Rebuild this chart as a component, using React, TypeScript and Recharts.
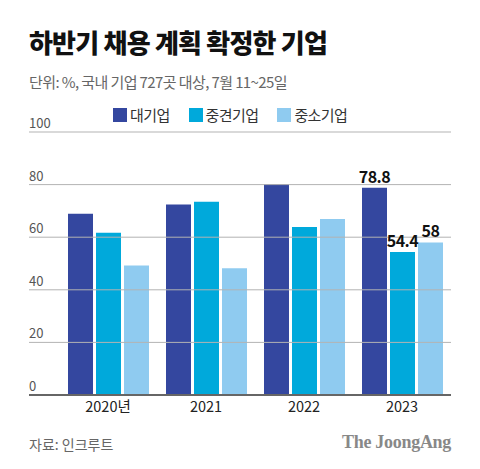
import { Bar, BarChart, LabelList, XAxis, YAxis } from "recharts";

const years = ["2020년", "2021", "2022", "2023"];
const large = [68.9, 72.4, 80.2, 78.8];
const mid = [61.7, 73.5, 63.9, 54.4];
const small = [49.2, 48.2, 66.9, 58];
const yTicks = [0, 20, 40, 60, 80, 100];

const series = [
    { key: "대기업", values: large, color: "#34479f" },
    { key: "중견기업", values: mid, color: "#00a9db" },
    { key: "중소기업", values: small, color: "#8fcbf0" },
];

const data = years.map((year, i) => {
    const row: Record<string, string | number> = { year };
    series.forEach((s) => {
        row[s.key] = s.values[i];
    });
    return row;
});

const font = "'Noto Sans CJK KR', 'Noto Sans', sans-serif";

// y tick: label sits above its gridline, line runs across the whole chart
const yTick = (props: any) => {
    const { y, payload } = props;
    return (
        <g>
            {payload.value !== 0 && (
                <line x1={29} x2={451} y1={y} y2={y} stroke="#b3b3b3" strokeWidth={1} />
            )}
            <text x={29} y={y - 4} fontSize={13} fill="#555" fontFamily={font}>
                {payload.value}
            </text>
        </g>
    );
};

const lastLabel = (props: any) => {
    const { x, y, width, value, index } = props;
    if (index !== years.length - 1) return null;
    return (
        <text
            x={x + width / 2}
            y={y - 5}
            textAnchor="middle"
            fontSize={16}
            fontWeight={700}
            fill="#111"
            fontFamily={font}
            letterSpacing={-0.5}
        >
            {value}
        </text>
    );
};

export default function App() {
    return (
        <div
            style={{
                position: "absolute",
                left: 0,
                top: 0,
                width: 480,
                height: 469,
                background: "#fff",
                fontFamily: font,
                overflow: "hidden",
            }}
        >
            <div
                style={{
                    position: "absolute",
                    left: 29,
                    top: 23,
                    fontSize: 26,
                    fontWeight: 800,
                    color: "#111",
                    letterSpacing: -0.8,
                    whiteSpace: "nowrap",
                }}
            >
                하반기 채용 계획 확정한 기업
            </div>
            <div
                style={{
                    position: "absolute",
                    left: 29,
                    top: 71,
                    fontSize: 15,
                    color: "#666",
                    letterSpacing: -0.6,
                    whiteSpace: "nowrap",
                }}
            >
                단위: %, 국내 기업 727곳 대상, 7월 11~25일
            </div>
            <div
                style={{
                    position: "absolute",
                    left: 113,
                    top: 104,
                    display: "flex",
                    alignItems: "center",
                    fontSize: 15,
                    color: "#333",
                    whiteSpace: "nowrap",
                }}
            >
                {series.map((s, i) => (
                    <div
                        key={s.key}
                        style={{ display: "flex", alignItems: "center", marginLeft: i === 0 ? 0 : 19 }}
                    >
                        <span style={{ width: 14, height: 14, background: s.color, marginRight: 3 }} />
                        <span style={{ letterSpacing: -0.6 }}>{s.key}</span>
                    </div>
                ))}
            </div>
            <div style={{ position: "absolute", left: 0, top: 0 }}>
                <BarChart
                    width={480}
                    height={469}
                    data={data}
                    margin={{ top: 132, right: 29, bottom: 44, left: 0 }}
                    barSize={25}
                    barGap={3}
                >
                    <YAxis
                        width={29}
                        domain={[0, 100]}
                        ticks={yTicks}
                        interval={0}
                        axisLine={false}
                        tickLine={false}
                        tick={yTick}
                    />
                    <XAxis
                        dataKey="year"
                        height={30}
                        padding={{ left: 30, right: 0 }}
                        axisLine={{ stroke: "#666", strokeWidth: 2 }}
                        tickLine={false}
                        tick={{ fontSize: 14.5, fill: "#222", fontFamily: font }}
                        tickMargin={1}
                    />
                    {series.map((s) => (
                        <Bar key={s.key} dataKey={s.key} fill={s.color} isAnimationActive={false}>
                            <LabelList dataKey={s.key} content={lastLabel} />
                        </Bar>
                    ))}
                </BarChart>
            </div>
            <div
                style={{
                    position: "absolute",
                    left: 29,
                    top: 434,
                    fontSize: 14,
                    color: "#666",
                    whiteSpace: "nowrap",
                }}
            >
                자료: 인크루트
            </div>
            <div
                style={{
                    position: "absolute",
                    right: 29,
                    top: 432,
                    fontSize: 18,
                    fontWeight: 700,
                    color: "#888",
                    fontFamily: "'Liberation Serif', 'DejaVu Serif', serif",
                    letterSpacing: -0.3,
                    whiteSpace: "nowrap",
                }}
            >
                The JoongAng
            </div>
        </div>
    );
}
